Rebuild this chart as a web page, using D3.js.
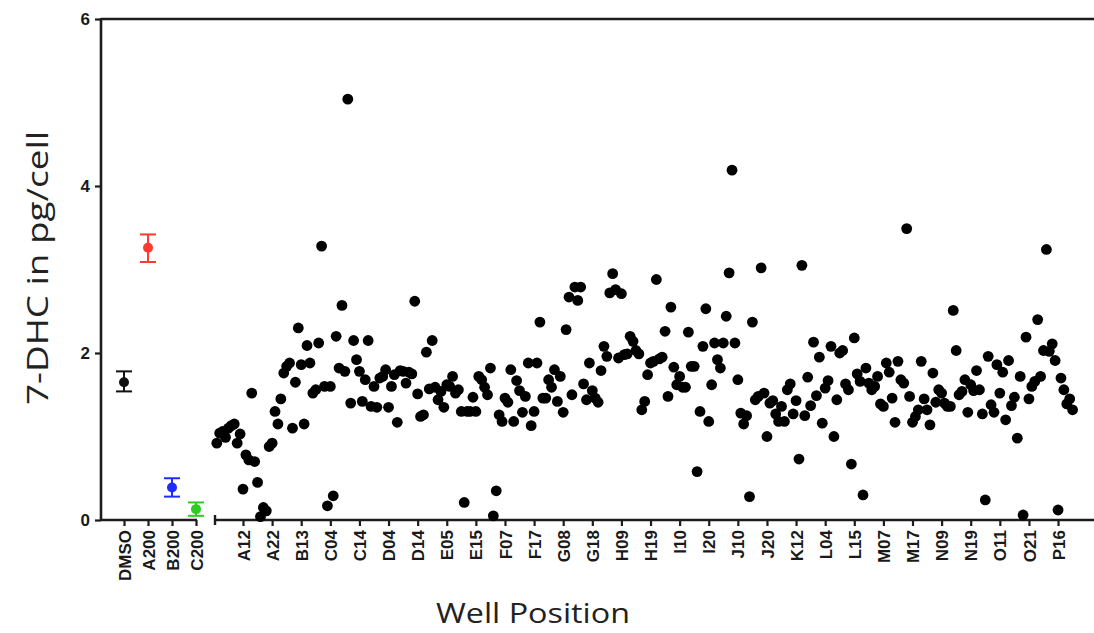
<!DOCTYPE html>
<html>
<head>
<meta charset="utf-8">
<script src="https://cdn.jsdelivr.net/npm/d3@7"></script>
<style>
    body { margin: 0; background: #fff; }
</style>
</head>
<body>
<div id="chart"></div>
<script>
// control wells: mean and error bar ends
const controlNames = ['DMSO', 'A200', 'B200', 'C200']
const controlMeans = [1.65, 3.26, 0.39, 0.13]
const controlLow = [1.54, 3.09, 0.28, 0.05]
const controlHigh = [1.78, 3.42, 0.50, 0.21]
const controlColors = ['#111111', '#ff3b2f', '#1f2cff', '#2dcc22']

// every 10th well is labelled, starting at the 10th well
const wellTickLabels = ['A12', 'A22', 'B13', 'C04', 'C14', 'D04', 'D14', 'E05', 'E15', 'F07',
    'F17', 'G08', 'G18', 'H09', 'H19', 'I10', 'I20', 'J10', 'J20', 'K12',
    'L04', 'L15', 'M07', 'M17', 'N09', 'N19', 'O11', 'O21', 'P16']

// 7-DHC (pg/cell) for each well, in plate order
const wellValues = [
    0.92, 1.04, 1.06, 0.99, 1.10, 1.13, 1.15, 0.92, 1.03, 0.37,
    0.78, 0.72, 1.52, 0.70, 0.45, 0.04, 0.15, 0.11, 0.88, 0.92,
    1.30, 1.15, 1.45, 1.76, 1.84, 1.88, 1.10, 1.65, 2.30, 1.86,
    1.15, 2.09, 1.88, 1.52, 1.56, 2.12, 3.28, 1.60, 0.17, 1.60,
    0.29, 2.20, 1.82, 2.57, 1.78, 5.04, 1.40, 2.15, 1.92, 1.78,
    1.42, 1.68, 2.15, 1.36, 1.60, 1.35, 1.70, 1.72, 1.80, 1.35,
    1.60, 1.74, 1.17, 1.79, 1.78, 1.64, 1.77, 1.75, 2.62, 1.51,
    1.24, 1.26, 2.01, 1.57, 2.15, 1.59, 1.44, 1.54, 1.35, 1.62,
    1.60, 1.72, 1.52, 1.56, 1.30, 0.21, 1.30, 1.30, 1.47, 1.30,
    1.72, 1.68, 1.59, 1.50, 1.82, 0.05, 0.35, 1.26, 1.18, 1.46,
    1.41, 1.80, 1.18, 1.67, 1.55, 1.29, 1.48, 1.88, 1.13, 1.30,
    1.88, 2.37, 1.46, 1.46, 1.68, 1.59, 1.80, 1.42, 1.72, 1.29,
    2.28, 2.67, 1.50, 2.79, 2.63, 2.79, 1.63, 1.44, 1.88, 1.55,
    1.46, 1.41, 1.79, 2.08, 1.96, 2.72, 2.95, 2.76, 1.94, 2.71,
    1.98, 1.99, 2.20, 2.14, 2.03, 1.99, 1.32, 1.42, 1.74, 1.88,
    1.90, 2.88, 1.93, 1.95, 2.26, 1.48, 2.55, 1.83, 1.62, 1.72,
    1.59, 1.59, 2.25, 1.84, 1.84, 0.58, 1.30, 2.08, 2.53, 1.18,
    1.62, 2.12, 1.92, 1.82, 2.12, 2.44, 2.96, 4.19, 2.12, 1.68,
    1.28, 1.15, 1.25, 0.28, 2.37, 1.44, 1.48, 3.02, 1.52, 1.00,
    1.40, 1.43, 1.27, 1.18, 1.36, 1.18, 1.56, 1.63, 1.27, 1.43,
    0.73, 3.05, 1.25, 1.71, 1.37, 2.13, 1.49, 1.95, 1.16, 1.58,
    1.67, 2.08, 1.00, 1.44, 2.00, 2.03, 1.63, 1.56, 0.67, 2.18,
    1.75, 1.66, 0.30, 1.82, 1.64, 1.56, 1.60, 1.72, 1.39, 1.36,
    1.88, 1.77, 1.46, 1.17, 1.90, 1.68, 1.64, 3.49, 1.48, 1.17,
    1.24, 1.32, 1.90, 1.45, 1.32, 1.14, 1.76, 1.41, 1.56, 1.52,
    1.40, 1.36, 1.36, 2.51, 2.03, 1.50, 1.54, 1.68, 1.29, 1.62,
    1.55, 1.79, 1.56, 1.27, 0.24, 1.96, 1.38, 1.29, 1.86, 1.52,
    1.77, 1.20, 1.91, 1.37, 1.47, 0.98, 1.72, 0.06, 2.19, 1.45,
    1.60, 1.66, 2.40, 1.72, 2.03, 3.24, 2.02, 2.11, 1.91, 0.12,
    1.70, 1.56, 1.39, 1.45, 1.32
]

const yTicks = [0, 2, 4, 6]

const config = {
    width: 1094,
    height: 633,
    left: 101,
    top: 19,
    bottom: 520,
    controls: { start: 124, end: 196, axisEnd: 197 },
    wells: { axisStart: 215, first: 216.8, last: 1072.6 },
    axisColor: '#1c1c1c',
    axisWidth: 2.6,
}

const svg = d3.select('#chart')
    .append('svg')
    .attr('width', config.width)
    .attr('height', config.height)
    .style('font-family', '"Liberation Sans", Arial, sans-serif')

const scaleY = d3.scaleLinear()
    .domain([0, 6])
    .range([config.bottom, config.top])

const scaleControl = d3.scalePoint()
    .domain(controlNames)
    .range([config.controls.start, config.controls.end])

const scaleWell = d3.scaleLinear()
    .domain([0, wellValues.length - 1])
    .range([config.wells.first, config.wells.last])

function styleAxis(g) {
    g.select('.domain').remove()
    g.selectAll('.tick line')
        .attr('stroke', config.axisColor)
        .attr('stroke-width', 2.2)
    g.selectAll('.tick text')
        .attr('fill', '#1a1a1a')
        .attr('font-weight', 'bold')
}

// y axis
const yAxisGroup = svg.append('g')
    .attr('transform', `translate(${config.left}, 0)`)
    .call(d3.axisLeft(scaleY)
        .tickValues(yTicks)
        .tickFormat(d3.format('d'))
        .tickSize(6)
        .tickPadding(5))
    .call(styleAxis)
yAxisGroup.selectAll('.tick text').attr('font-size', 17)

// frame lines: left axis, top edge
svg.append('line')
    .attr('x1', config.left).attr('x2', config.left)
    .attr('y1', config.top - 1).attr('y2', config.bottom + 1)
    .attr('stroke', config.axisColor).attr('stroke-width', config.axisWidth)
svg.append('line')
    .attr('x1', config.left).attr('x2', config.width)
    .attr('y1', config.top).attr('y2', config.top)
    .attr('stroke', config.axisColor).attr('stroke-width', config.axisWidth)

// x axis, control segment
svg.append('line')
    .attr('x1', config.left).attr('x2', config.controls.axisEnd)
    .attr('y1', config.bottom).attr('y2', config.bottom)
    .attr('stroke', config.axisColor).attr('stroke-width', config.axisWidth)

// x axis, plate segment with its end cap
svg.append('line')
    .attr('x1', config.wells.axisStart).attr('x2', config.width)
    .attr('y1', config.bottom).attr('y2', config.bottom)
    .attr('stroke', config.axisColor).attr('stroke-width', config.axisWidth)
svg.append('line')
    .attr('x1', config.wells.axisStart).attr('x2', config.wells.axisStart)
    .attr('y1', config.bottom - 5).attr('y2', config.bottom + 5)
    .attr('stroke', config.axisColor).attr('stroke-width', 2.4)

function rotateLabels(g) {
    g.selectAll('.tick text')
        .attr('font-size', 17)
        .attr('text-anchor', 'end')
        .attr('transform', 'rotate(-90)')
        .attr('x', -10)
        .attr('y', 0)
        .attr('dy', '0.36em')
}

svg.append('g')
    .attr('transform', `translate(0, ${config.bottom})`)
    .call(d3.axisBottom(scaleControl).tickSize(6).tickSizeOuter(0))
    .call(styleAxis)
    .call(rotateLabels)

const wellTickValues = wellTickLabels.map((d, i) => 9 + i * 10)
svg.append('g')
    .attr('transform', `translate(0, ${config.bottom})`)
    .call(d3.axisBottom(scaleWell)
        .tickValues(wellTickValues)
        .tickFormat((d, i) => wellTickLabels[i])
        .tickSize(6))
    .call(styleAxis)
    .call(rotateLabels)

// control wells with error bars
const controls = controlNames.map((name, i) => ({
    name,
    mean: controlMeans[i],
    low: controlLow[i],
    high: controlHigh[i],
    color: controlColors[i],
}))

const controlGroups = svg.append('g')
    .selectAll('g')
    .data(controls)
    .enter()
    .append('g')
    .attr('stroke', d => d.color)
    .attr('fill', d => d.color)

controlGroups.append('line')
    .attr('x1', d => scaleControl(d.name)).attr('x2', d => scaleControl(d.name))
    .attr('y1', d => scaleY(d.low)).attr('y2', d => scaleY(d.high))
    .attr('stroke-width', 2)
controlGroups.selectAll('.cap')
    .data(d => [{ name: d.name, v: d.low }, { name: d.name, v: d.high }])
    .enter()
    .append('line')
    .attr('class', 'cap')
    .attr('x1', d => scaleControl(d.name) - 8).attr('x2', d => scaleControl(d.name) + 8)
    .attr('y1', d => scaleY(d.v)).attr('y2', d => scaleY(d.v))
    .attr('stroke-width', 2)
controlGroups.append('circle')
    .attr('cx', d => scaleControl(d.name))
    .attr('cy', d => scaleY(d.mean))
    .attr('r', 5)
    .attr('stroke', 'none')

// plate wells
svg.append('g')
    .selectAll('circle')
    .data(wellValues)
    .enter()
    .append('circle')
    .attr('cx', (d, i) => scaleWell(i))
    .attr('cy', d => scaleY(d))
    .attr('r', 5.4)
    .attr('fill', '#000')

// axis titles
svg.append('text')
    .attr('transform', `translate(48, 268) rotate(-90)`)
    .attr('text-anchor', 'middle')
    .attr('font-family', '"Open Sans", sans-serif')
    .attr('font-size', 29)
    .attr('textLength', 274)
    .attr('lengthAdjust', 'spacingAndGlyphs')
    .attr('fill', '#222')
    .text('7-DHC in pg/cell')

svg.append('text')
    .attr('x', 533)
    .attr('y', 623)
    .attr('text-anchor', 'middle')
    .attr('font-family', '"Open Sans", sans-serif')
    .attr('font-size', 27)
    .attr('textLength', 194)
    .attr('lengthAdjust', 'spacingAndGlyphs')
    .attr('fill', '#222')
    .text('Well Position')
</script>
</body>
</html>
